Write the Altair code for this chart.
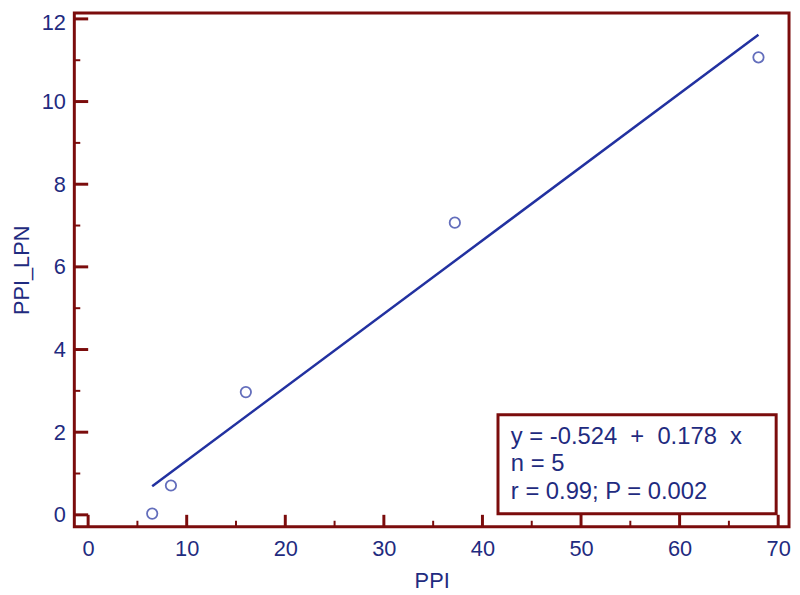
import altair as alt
import pandas as pd

# data
ppi = [6.5, 8.4, 16.0, 37.2, 68.0]
ppi_lpn = [0.03, 0.71, 2.97, 7.07, 11.07]

x_major = [0, 10, 20, 30, 40, 50, 60, 70]
x_minor = [5, 15, 25, 35, 45, 55, 65]
y_major = [0, 2, 4, 6, 8, 10, 12]
y_minor = [1, 3, 5, 7, 9, 11]

stats_lines = ["y = -0.524\u00a0\u00a0+\u00a0\u00a00.178\u00a0\u00a0x", "n = 5", "r = 0.99; P = 0.002"]

FRAME = "#7b0c0c"
TEXT = "#1f2b80"
LINE = "#2231a0"
FONT = "Liberation Sans"

W, H = 722, 519
xdom = [-1.4, 71.1]
ydom = [-0.287, 12.144]

df = pd.DataFrame({"PPI": ppi, "PPI_LPN": ppi_lpn})

xs = alt.Scale(domain=xdom, nice=False, zero=False)
ys = alt.Scale(domain=ydom, nice=False, zero=False)

xaxis = alt.Axis(values=x_major, ticks=False, domain=False, grid=False, labelFontSize=22,
                 labelColor=TEXT, labelFont=FONT, labelPadding=12, title="PPI", titleFontSize=22,
                 titleColor=TEXT, titleFont=FONT, titleFontWeight="normal", titlePadding=11)
yaxis = alt.Axis(values=y_major, ticks=False, domain=False, grid=False, labelFontSize=22,
                 labelColor=TEXT, labelFont=FONT, labelPadding=9, title="PPI_LPN", titleFontSize=22,
                 titleColor=TEXT, titleFont=FONT, titleFontWeight="normal", titlePadding=8,
                 labelOffset={"condition": {"test": "datum.value >= 12", "value": 4}, "value": 0})

points = alt.Chart(df).mark_point(shape="circle", filled=False, size=110, strokeWidth=1.8, color=LINE).encode(
    x=alt.X("PPI:Q", scale=xs, axis=xaxis),
    y=alt.Y("PPI_LPN:Q", scale=ys, axis=yaxis),
)

fit = alt.Chart(df).transform_regression("PPI", "PPI_LPN").mark_line(color=LINE, strokeWidth=2.5).encode(
    x=alt.X("PPI:Q", scale=xs),
    y=alt.Y("PPI_LPN:Q", scale=ys),
)

xmaj = alt.Chart(pd.DataFrame({"v": x_major})).mark_rule(color=FRAME, strokeWidth=3).encode(
    x=alt.X("v:Q", scale=xs), y=alt.value(H), y2=alt.value(H - 12))
xmin = alt.Chart(pd.DataFrame({"v": x_minor})).mark_rule(color=FRAME, strokeWidth=2).encode(
    x=alt.X("v:Q", scale=xs), y=alt.value(H), y2=alt.value(H - 6))
ymaj = alt.Chart(pd.DataFrame({"v": y_major})).mark_rule(color=FRAME, strokeWidth=3).encode(
    y=alt.Y("v:Q", scale=ys), x=alt.value(0), x2=alt.value(14))
ymin = alt.Chart(pd.DataFrame({"v": y_minor})).mark_rule(color=FRAME, strokeWidth=2).encode(
    y=alt.Y("v:Q", scale=ys), x=alt.value(0), x2=alt.value(6))

box = alt.Chart(pd.DataFrame({"a": [0]})).mark_rect(fill="white", stroke=FRAME, strokeWidth=3).encode(
    x=alt.value(428), x2=alt.value(709), y=alt.value(406), y2=alt.value(506))

texts = []
for i, line in enumerate(stats_lines):
    texts.append(
        alt.Chart(pd.DataFrame({"t": [line]})).mark_text(
            align="left", baseline="alphabetic", fontSize=24, font=FONT, color=TEXT
        ).encode(x=alt.value(441), y=alt.value(435 + 28 * i), text="t:N")
    )

chart = alt.layer(xmin, xmaj, ymin, ymaj, fit, points, box, *texts).properties(
    width=W, height=H,
    autosize=alt.AutoSizeParams(type="none"),
    padding={"left": 67, "top": 2, "right": 3, "bottom": 66},
    background="white",
).configure_view(stroke=FRAME, strokeWidth=3)

chart.save("out.html", embed_options={"renderer": "svg", "actions": False})
